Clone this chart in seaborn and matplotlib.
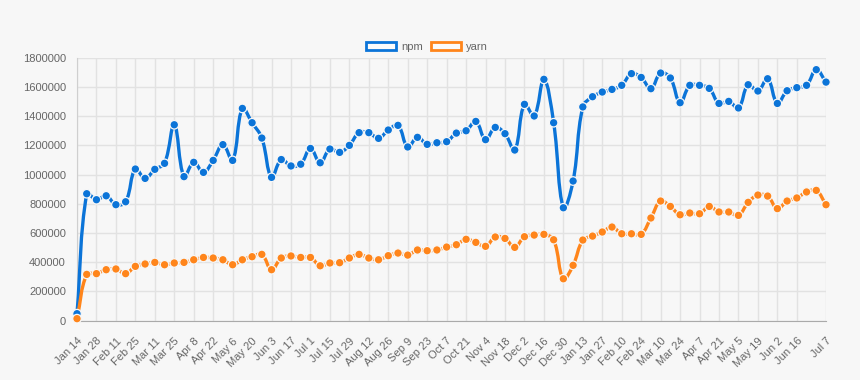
import numpy as np
import pandas as pd
import matplotlib
matplotlib.use("Agg")
import matplotlib.pyplot as plt
from matplotlib.path import Path
from matplotlib.patches import PathPatch, Patch
import seaborn as sns

# ---------------- data ----------------
weeks = pd.date_range("2017-01-14", periods=78, freq="7D")
npm = [48000, 869000, 828000, 855000, 794000, 814000, 1038000, 974000, 1036000, 1077000,
       1341000, 986000, 1084000, 1015000, 1097000, 1205000, 1097000, 1453000, 1355000, 1250000,
       981000, 1103000, 1059000, 1071000, 1179000, 1081000, 1175000, 1152000, 1200000, 1287000,
       1287000, 1248000, 1305000, 1337000, 1189000, 1255000, 1207000, 1218000, 1225000, 1284000,
       1300000, 1364000, 1239000, 1323000, 1280000, 1168000, 1481000, 1401000, 1652000, 1355000,
       773000, 956000, 1463000, 1533000, 1565000, 1583000, 1611000, 1691000, 1665000, 1588000,
       1695000, 1661000, 1492000, 1611000, 1611000, 1590000, 1487000, 1501000, 1456000, 1615000,
       1572000, 1656000, 1487000, 1574000, 1595000, 1611000, 1718000, 1633000]
yarn = [14000, 317000, 322000, 349000, 354000, 322000, 372000, 388000, 399000, 383000,
        395000, 399000, 417000, 433000, 429000, 417000, 383000, 417000, 438000, 454000,
        349000, 429000, 443000, 433000, 433000, 376000, 395000, 397000, 429000, 454000,
        429000, 417000, 445000, 463000, 449000, 484000, 479000, 484000, 504000, 520000,
        557000, 536000, 509000, 573000, 563000, 502000, 575000, 586000, 591000, 554000,
        287000, 379000, 552000, 579000, 607000, 641000, 595000, 595000, 591000, 703000,
        819000, 782000, 725000, 737000, 732000, 782000, 744000, 744000, 721000, 810000,
        860000, 853000, 767000, 819000, 840000, 881000, 892000, 794000]
tick_labels = ["Jan 14", "Jan 28", "Feb 11", "Feb 25", "Mar 11", "Mar 25", "Apr 8", "Apr 22",
               "May 6", "May 20", "Jun 3", "Jun 17", "Jul 1", "Jul 15", "Jul 29", "Aug 12",
               "Aug 26", "Sep 9", "Sep 23", "Oct 7", "Oct 21", "Nov 4", "Nov 18", "Dec 2",
               "Dec 16", "Dec 30", "Jan 13", "Jan 27", "Feb 10", "Feb 24", "Mar 10", "Mar 24",
               "Apr 7", "Apr 21", "May 5", "May 19", "Jun 2", "Jun 16", "Jul 7"]
series_names = ["npm", "yarn"]
y_ticks = [0, 200000, 400000, 600000, 800000, 1000000, 1200000, 1400000, 1600000, 1800000]

# ---------------- style ----------------
BG = "#f7f7f7"
GRID = "#e2e2e2"
TXT = "#666666"
COLORS = {"npm": "#0b74d8", "yarn": "#ff851b"}

sns.set_style("white")
plt.rcParams["font.family"] = ["Liberation Sans", "DejaVu Sans"]

fig = plt.figure(figsize=(8.6, 3.8), dpi=100, facecolor=BG)
ax = fig.add_axes([77 / 860, 1 - 320.7 / 380, (826 - 77) / 860, (320.7 - 57.7) / 380])
ax.set_facecolor(BG)

idx = np.arange(len(weeks))
df = pd.DataFrame({"idx": np.concatenate([idx, idx]),
                   "value": npm + yarn,
                   "series": ["npm"] * len(npm) + ["yarn"] * len(yarn)})

ax.set_xlim(0, len(weeks) - 1)
ax.set_ylim(y_ticks[0], y_ticks[-1])

fmt = [f"{d:%b} {d.day}" for d in weeks]
tick_pos = [fmt.index(l) for l in tick_labels]
ax.set_xticks(tick_pos)
ax.set_xticklabels(tick_labels, rotation=45, ha="right", va="top", rotation_mode="anchor")
ax.set_yticks(y_ticks)
ax.set_yticklabels([str(v) for v in y_ticks])
ax.tick_params(axis="both", colors=GRID, labelcolor=TXT, labelsize=8, length=6, width=1)
ax.tick_params(axis="y", pad=2)
ax.tick_params(axis="x", pad=5)
ax.grid(True, color=GRID, lw=1)
ax.set_axisbelow(True)
for s in ["top", "right"]:
    ax.spines[s].set_visible(False)
ax.spines["left"].set_color("#cfcfcf")
ax.spines["bottom"].set_color("#aaaaaa")
ax.set_xlabel("")
ax.set_ylabel("")


def spline_path(xs, ys, tension=0.4):
    P = ax.transData.transform(np.column_stack([xs, ys]))
    n = len(P)
    prev_cp = np.zeros_like(P)
    next_cp = np.zeros_like(P)
    for i in range(n):
        p0 = P[i - 1] if i > 0 else P[i]
        p1 = P[i]
        p2 = P[i + 1] if i < n - 1 else P[i]
        d01 = np.hypot(*(p1 - p0))
        d12 = np.hypot(*(p2 - p1))
        tot = d01 + d12
        s01 = d01 / tot if tot else 0
        s12 = d12 / tot if tot else 0
        prev_cp[i] = p1 - tension * s01 * (p2 - p0)
        next_cp[i] = p1 + tension * s12 * (p2 - p0)
    verts = [P[0]]
    codes = [Path.MOVETO]
    for i in range(n - 1):
        verts += [next_cp[i], prev_cp[i + 1], P[i + 1]]
        codes += [Path.CURVE4] * 3
    verts = ax.transData.inverted().transform(np.array(verts))
    return Path(verts, codes)


for name, vals in zip(series_names, [npm, yarn]):
    patch = PathPatch(spline_path(idx, vals), facecolor="none", edgecolor=COLORS[name],
                      lw=2.4, zorder=3, clip_on=False, capstyle="round", joinstyle="round")
    ax.add_patch(patch)

sns.scatterplot(data=df, x="idx", y="value", hue="series", palette=COLORS,
                s=38, edgecolor=BG, linewidth=0.9, legend=False, zorder=4, ax=ax)
for c in ax.collections:
    c.set_clip_on(False)
ax.set_xlabel("")
ax.set_ylabel("")

handles = [Patch(facecolor="#fbfbfb", edgecolor=COLORS[n], lw=2, label=n) for n in series_names]
fig.legend(handles=handles, loc="center", bbox_to_anchor=(427 / 860, 1 - 47 / 380),
           ncol=2, frameon=False, fontsize=8, handlelength=2.7, handleheight=0.75,
           handletextpad=0.5, columnspacing=0.7, labelcolor=TXT)

fig.savefig("out.png", dpi=100, facecolor=BG)
